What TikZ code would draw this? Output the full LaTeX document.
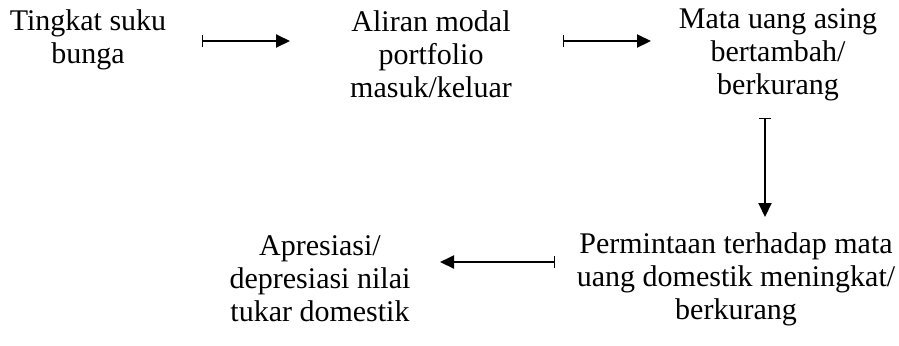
\documentclass[tikz,border=0pt]{standalone}
\usepackage{fontspec}
\setmainfont{Liberation Serif}
\usetikzlibrary{arrows.meta}

\begin{document}
\begin{tikzpicture}[
        x=0.5pt, y=-0.5pt,
        txt/.style={align=center, inner sep=0pt, font=\fontsize{15}{16.5}\selectfont},
        link/.style={{Bar[width=6pt, line width=0.6pt]}-{Triangle[length=7pt,width=6.5pt]}, line width=1pt}
    ]
    \useasboundingbox (0,0) rectangle (899,345);

    % kotak teks
    \node (tingkat) [txt] at (88,40) {Tingkat suku\\bunga};
    \node (aliran) [txt] at (431,54) {Aliran modal\\portfolio\\masuk/keluar};
    \node (mata) [txt] at (778,55) {Mata uang asing\\bertambah/\\berkurang};
    \node (permintaan) [txt] at (736,279) {Permintaan terhadap mata\\uang domestik meningkat/\\berkurang};
    \node (apresiasi) [txt] at (320,279) {Apresiasi/\\depresiasi nilai\\tukar domestik};

    % ujung panah
    \coordinate (a1s) at (202,41);
    \coordinate (a1e) at (290,41);
    \coordinate (a2s) at (563,41);
    \coordinate (a2e) at (651,41);
    \coordinate (a3s) at (765,118);
    \coordinate (a3e) at (765,217);
    \coordinate (a4s) at (555,262);
    \coordinate (a4e) at (440,262);

    % panah
    \draw[link] (a1s) -- (a1e);
    \draw[link] (a2s) -- (a2e);
    \draw[link] (a3s) -- (a3e);
    \draw[link] (a4s) -- (a4e);

\end{tikzpicture}
\end{document}
